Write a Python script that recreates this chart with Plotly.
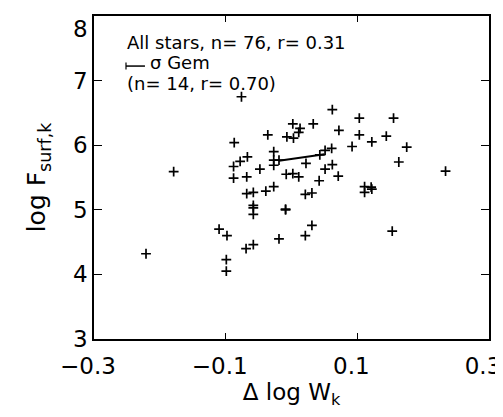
import plotly.graph_objects as go

# Data (Δ log W_k, log F_surf,k)
dlogw = [-0.221, -0.179, -0.076, 0.002, 0.013, 0.011, -0.036, -0.007, 0.003, -0.087,
         -0.027, -0.067, -0.078, -0.088, -0.027, -0.019, -0.027, -0.048, -0.088, -0.068,
         -0.008, 0.002, 0.011, 0.022, -0.027, 0.062, 0.103, 0.155, 0.033, 0.072,
         0.103, 0.144, 0.122, 0.092, 0.175, 0.061, 0.051, 0.043, 0.062, 0.051,
         0.163, 0.071, 0.042, 0.111, 0.121, -0.039, -0.068, -0.058, 0.021, -0.058,
         -0.058, -0.058, -0.009, -0.110, -0.098, -0.019, 0.021, -0.069, -0.058, -0.099,
         -0.099, 0.031, 0.111, 0.122, 0.031, 0.153, 0.234, -0.009]
logf = [4.32, 5.59, 6.75, 6.33, 6.26, 6.20, 6.16, 6.13, 6.11, 6.04,
        5.90, 5.82, 5.75, 5.67, 5.77, 5.77, 5.69, 5.63, 5.49, 5.51,
        5.55, 5.56, 5.51, 5.72, 5.36, 6.55, 6.42, 6.42, 6.33, 6.23,
        6.16, 6.14, 6.05, 5.98, 5.97, 5.95, 5.92, 5.85, 5.70, 5.63,
        5.74, 5.52, 5.45, 5.36, 5.35, 5.29, 5.25, 5.27, 5.24, 5.07,
        5.03, 4.93, 5.00, 4.70, 4.60, 4.55, 4.60, 4.40, 4.46, 4.23,
        4.05, 5.26, 5.27, 5.32, 4.76, 4.67, 5.60, 5.01]

# sigma Gem fit segment
gem_x = [-0.019, 0.050]
gem_y = [5.76, 5.86]

x_tickvals = [-0.3, -0.1, 0.1, 0.3]
x_ticktext = ["\u22120.3", "\u22120.1", "0.1", "0.3"]
y_tickvals = [3, 4, 5, 6, 7]
y_ticktext = ["3", "4", "5", "6", "7"]
y_top_value = 8
y_top_label = "8"   # drawn just below its tick, as in the reference

legend_lines = ["All stars, n= 76, r= 0.31", "\u03c3 Gem", "(n= 14, r= 0.70)"]

FONT = "DejaVu Sans"
TICK_SIZE = 23

fig = go.Figure()
fig.add_trace(go.Scatter(
    x=dlogw, y=logf, mode="markers",
    marker=dict(symbol="cross-thin", size=7, line=dict(color="black", width=1.7)),
    showlegend=False, hoverinfo="skip"))
fig.add_trace(go.Scatter(
    x=gem_x, y=gem_y, mode="lines",
    line=dict(color="black", width=2), showlegend=False, hoverinfo="skip"))

axis_common = dict(showline=True, linecolor="black", linewidth=1.5, mirror="ticks",
                   ticks="inside", tickwidth=1.3, tickcolor="black",
                   showgrid=False, zeroline=False, ticklabeloverflow="allow",
                   tickfont=dict(family=FONT, size=TICK_SIZE, color="black"))

fig.update_xaxes(range=[-0.3, 0.3], tickvals=x_tickvals, ticktext=x_ticktext, ticklen=6,
                 title=dict(text="\u0394 log W<sub>k</sub>", font=dict(family=FONT, size=23, color="black"),
                            standoff=2),
                 ticklabelstandoff=6, ticklabelshift=-6, **axis_common)
fig.update_yaxes(range=[3, 8], tickvals=y_tickvals, ticktext=y_ticktext, ticklen=8,
                 title=dict(text="log F<sub>surf,k</sub>", font=dict(family=FONT, size=25, color="black"),
                            standoff=20),
                 ticklabelstandoff=0, **axis_common)

fig.add_annotation(xref="paper", yref="y", x=0, y=y_top_value, yshift=-13, xshift=-4,
                   text=y_top_label, showarrow=False, xanchor="right", yanchor="middle",
                   font=dict(family=FONT, size=TICK_SIZE, color="black"))

ys = [0.917, 0.855, 0.791]
for i, (txt, yy) in enumerate(zip(legend_lines, ys)):
    fig.add_annotation(xref="paper", yref="paper", x=0.142 if i == 1 else 0.083, y=yy,
                       text=txt, showarrow=False, xanchor="left", yanchor="middle",
                       xshift=-2, font=dict(family=FONT, size=18, color="black"))
# legend sample for the sigma Gem segment
fig.add_shape(type="line", xref="paper", yref="paper", x0=0.081, x1=0.129, y0=0.845, y1=0.845,
              line=dict(color="black", width=1.5))
fig.add_shape(type="line", xref="paper", yref="paper", x0=0.081, x1=0.081, y0=0.834, y1=0.856,
              line=dict(color="black", width=1.2))

fig.update_layout(width=503, height=417, margin=dict(l=86, r=22, t=6, b=86),
                  plot_bgcolor="white", paper_bgcolor="white",
                  font=dict(family=FONT, color="black"))

fig.write_html("out.html")
